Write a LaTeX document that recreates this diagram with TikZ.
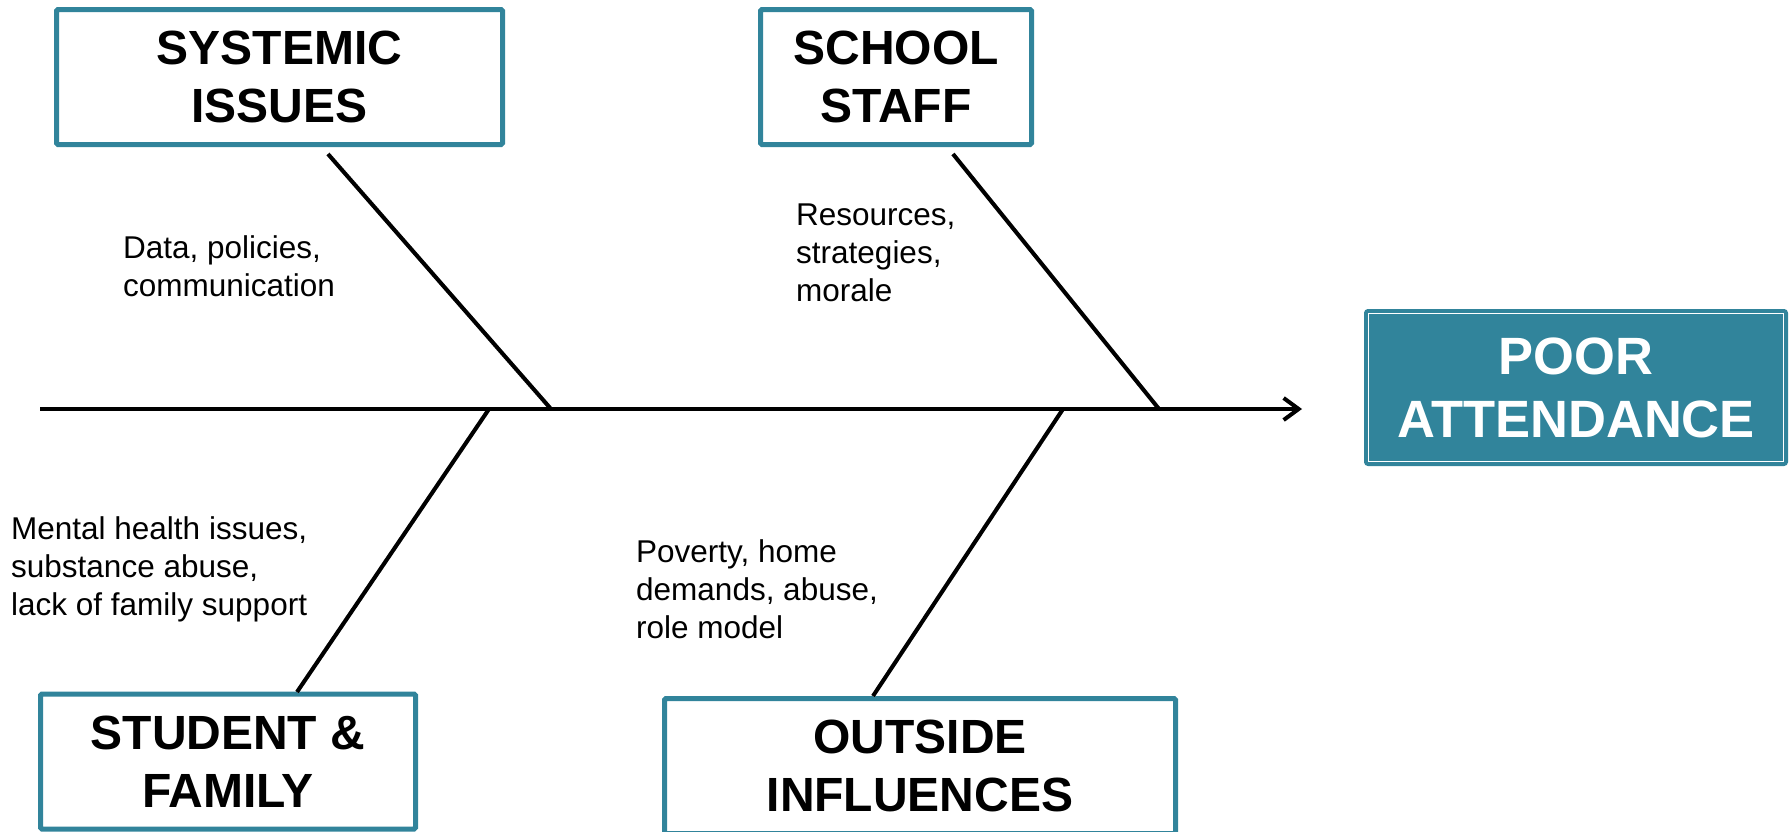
\documentclass[tikz,border=0pt]{standalone}
\usepackage{fontspec}
\setmainfont{Liberation Sans}
\usetikzlibrary{arrows.meta,calc}
\definecolor{teal1}{HTML}{31849B}
\begin{document}
\begin{tikzpicture}[x=1pt,y=-1pt,
  catbox/.style={draw=teal1, line width=5pt, fill=white, rounded corners=1.5pt,
    minimum height=135pt, align=center, inner sep=0pt,
    font=\fontsize{48}{58}\selectfont\bfseries},
  note/.style={anchor=north west, align=left, inner sep=0pt,
    font=\fontsize{31.5}{38}\selectfont},
  bone/.style={line width=4pt, black},
  shadowline/.style={line width=4pt, black!22}]
\useasboundingbox (0,0) rectangle (1792,831);
\clip (0,0) rectangle (1792,831);

% category boxes
\node[catbox, minimum width=446pt] (sys) at (279.5,77) {SYSTEMIC\\ISSUES};
\node[catbox, minimum width=271pt] (staff) at (896,77) {SCHOOL\\STAFF};
\node[catbox, minimum width=375pt] (stud) at (228,761.5) {STUDENT \&\\FAMILY};
\node[catbox, minimum width=511pt] (outs) at (920,766) {OUTSIDE\\INFLUENCES};

% effect box
\node[draw=teal1, line width=2pt, fill=teal1, rounded corners=3pt,
  minimum width=422pt, minimum height=155pt, inner sep=0pt, align=center,
  text=white, font=\fontsize{52.5}{63}\selectfont\bfseries] (poor) at (1576,387.5) {POOR\\ATTENDANCE};
\draw[white, line width=1.5pt] ($(poor.north west)+(4.5,4.5)$) rectangle ($(poor.south east)+(-4.5,-4.5)$);

% coordinates
\coordinate (spineStart) at (40,409);
\coordinate (spineEnd) at (1302,409);
\coordinate (b1) at (328,154);
\coordinate (j1) at (551,409);
\coordinate (b2) at (953,154);
\coordinate (j2) at (1159,409);
\coordinate (j3) at (489,409);
\coordinate (b3) at (297,692);
\coordinate (j4) at (1063,409);
\coordinate (b4) at (873,696);

% shadows
\begin{scope}[shift={(1.5,2.5)}]
\draw[shadowline] (spineStart) -- ($(spineEnd)+(-6,0)$);
\draw[shadowline] (b1) -- (j1);
\draw[shadowline] (b2) -- (j2);
\draw[shadowline] (j3) -- (b3);
\draw[shadowline] (j4) -- (b4);
\end{scope}

% spine and bones
\draw[bone, -{Straight Barb[length=15pt,width=22pt,line width=4pt]}] (spineStart) -- (spineEnd);
\draw[bone] (b1) -- (j1);
\draw[bone] (b2) -- (j2);
\draw[bone] (j3) -- (b3);
\draw[bone] (j4) -- (b4);

% notes
\node[note] (n1) at (123,235) {Data, policies,\\communication};
\node[note] (n2) at (796,204) {Resources,\\strategies,\\morale};
\node[note] (n3) at (11,516) {Mental health issues,\\substance abuse,\\lack of family support};
\node[note] (n4) at (636,539) {Poverty, home\\demands, abuse,\\role model};
\end{tikzpicture}
\end{document}
